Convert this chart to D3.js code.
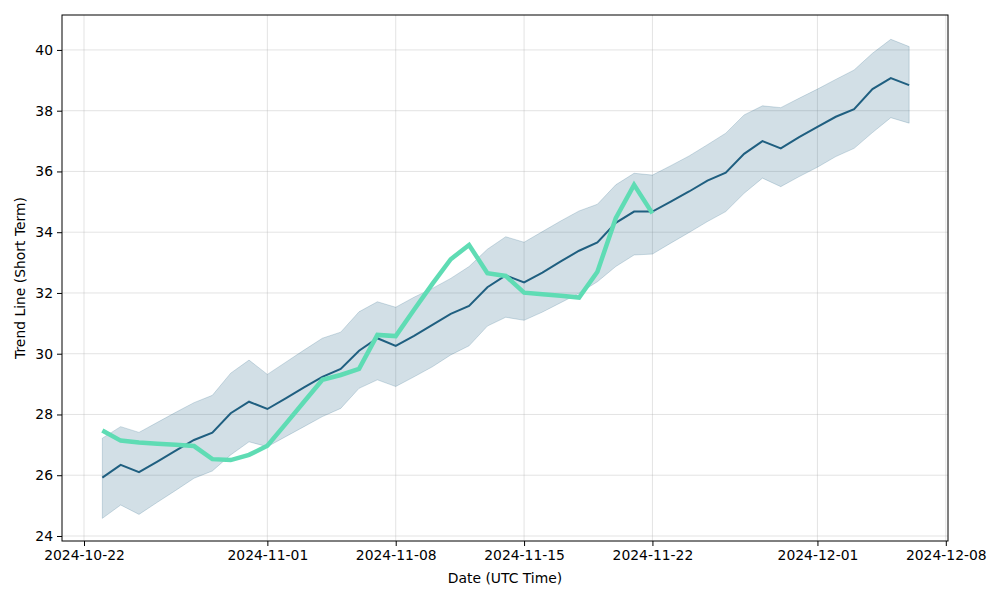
<!DOCTYPE html>
<html>
<head>
<meta charset="utf-8">
<script src="https://cdn.jsdelivr.net/npm/d3@7.9.0/dist/d3.min.js"></script>
<style>
  body { margin: 0; background: #fff; }
  text { font-family: "DejaVu Sans", sans-serif; }
</style>
</head>
<body>
<div id="chart"></div>
<script>
// daily values, 2024-10-23 .. 2024-12-06
const startDate = "2024-10-23";

const trendMean = [
  25.92, 26.34, 26.10, 26.45, 26.81, 27.16, 27.40, 28.04, 28.42, 28.18,
  28.53, 28.89, 29.24, 29.50, 30.10, 30.51, 30.26, 30.59, 30.95, 31.31,
  31.57, 32.19, 32.58, 32.35, 32.67, 33.04, 33.39, 33.66, 34.31, 34.68,
  34.68, 35.01, 35.34, 35.70, 35.96, 36.58, 37.00, 36.76, 37.13, 37.47,
  37.80, 38.05, 38.71, 39.07, 38.84
];

const bandUpper = [
  27.22, 27.60, 27.41, 27.74, 28.07, 28.39, 28.63, 29.36, 29.79, 29.32,
  29.72, 30.12, 30.51, 30.71, 31.38, 31.71, 31.53, 31.86, 32.15, 32.48,
  32.87, 33.44, 33.85, 33.67, 34.02, 34.37, 34.70, 34.92, 35.56, 35.94,
  35.88, 36.19, 36.51, 36.88, 37.26, 37.86, 38.16, 38.10, 38.41, 38.71,
  39.03, 39.34, 39.89, 40.35, 40.11
];

const bandLower = [
  24.58, 25.02, 24.71, 25.11, 25.50, 25.90, 26.14, 26.67, 27.10, 26.94,
  27.27, 27.60, 27.93, 28.20, 28.86, 29.14, 28.92, 29.24, 29.57, 29.96,
  30.26, 30.91, 31.20, 31.10, 31.37, 31.68, 31.99, 32.37, 32.87, 33.25,
  33.28, 33.64, 33.99, 34.35, 34.68, 35.28, 35.78, 35.50, 35.83, 36.14,
  36.49, 36.76, 37.28, 37.77, 37.59
];

// observed values, 2024-10-23 .. 2024-11-22
const observed = [
  27.47, 27.14, 27.08, 27.04, 27.00, 26.96, 26.53, 26.50, 26.67, 26.97,
  27.69, 28.42, 29.14, 29.30, 29.50, 30.62, 30.58, 31.45, 32.30, 33.11,
  33.58, 32.65, 32.56, 32.01, 31.96, 31.91, 31.85, 32.70, 34.46, 35.56,
  34.62
];

const xTickLabels = ["2024-10-22", "2024-11-01", "2024-11-08", "2024-11-15", "2024-11-22", "2024-12-01", "2024-12-08"];
const yTicks = [24, 26, 28, 30, 32, 34, 36, 38, 40];

const width = 1000, height = 600;
const margin = { top: 15, right: 52, bottom: 59, left: 62 };
const DAY = 86400000;
const parse = d3.utcParse("%Y-%m-%d");
const t0 = parse(startDate);
const dateAt = i => new Date(t0.getTime() + i * DAY);

const svg = d3.select("#chart").append("svg")
  .attr("width", width)
  .attr("height", height);

const x = d3.scaleUtc()
  .domain([new Date(parse("2024-10-22").getTime() - 1.2 * DAY), new Date(parse("2024-10-22").getTime() + 47.12 * DAY)])
  .range([margin.left, width - margin.right]);

const y = d3.scaleLinear()
  .domain([23.835, 41.15])
  .range([height - margin.bottom, margin.top]);

const xTicks = xTickLabels.map(parse);

// grid
const grid = svg.append("g");
grid.selectAll(".gx").data(xTicks).enter().append("line")
  .attr("x1", d => x(d)).attr("x2", d => x(d))
  .attr("y1", margin.top).attr("y2", height - margin.bottom)
  .style("stroke", "#b0b0b0").style("stroke-opacity", 0.35).style("stroke-width", "1px");
grid.selectAll(".gy").data(yTicks).enter().append("line")
  .attr("x1", margin.left).attr("x2", width - margin.right)
  .attr("y1", d => y(d)).attr("y2", d => y(d))
  .style("stroke", "#b0b0b0").style("stroke-opacity", 0.35).style("stroke-width", "1px");

// confidence band
const band = d3.area()
  .x((d, i) => x(dateAt(i)))
  .y0((d, i) => y(bandLower[i]))
  .y1((d, i) => y(bandUpper[i]));

svg.append("path")
  .datum(trendMean)
  .attr("d", band)
  .style("fill", "#1f5f80")
  .style("fill-opacity", 0.2)
  .style("stroke", "#1f5f80")
  .style("stroke-opacity", 0.2)
  .style("stroke-width", "1px");

const line = d3.line()
  .x((d, i) => x(dateAt(i)))
  .y(d => y(d));

svg.append("path")
  .datum(trendMean)
  .attr("d", line)
  .style("fill", "none")
  .style("stroke", "#1f5f80")
  .style("stroke-width", "2px");

svg.append("path")
  .datum(observed)
  .attr("d", line)
  .style("fill", "none")
  .style("stroke", "#5fdcb4")
  .style("stroke-width", "4.5px");

// axes
const xAxis = svg.append("g")
  .attr("transform", `translate(0,${height - margin.bottom})`)
  .call(d3.axisBottom(x).tickValues(xTicks).tickFormat(d3.utcFormat("%Y-%m-%d")).tickSizeOuter(0).tickSize(5).tickPadding(4));

const yAxis = svg.append("g")
  .attr("transform", `translate(${margin.left},0)`)
  .call(d3.axisLeft(y).tickValues(yTicks).tickFormat(d3.format("d")).tickSizeOuter(0).tickSize(5).tickPadding(4));

[xAxis, yAxis].forEach(a => {
  a.select(".domain").remove();
  a.selectAll("text").style("font-size", "13.9px").style("fill", "#000").style("font-family", "DejaVu Sans, sans-serif");
  a.selectAll("line").style("stroke", "#000").style("stroke-width", "1px");
});

// frame
svg.append("rect")
  .attr("x", margin.left).attr("y", margin.top)
  .attr("width", width - margin.left - margin.right)
  .attr("height", height - margin.top - margin.bottom)
  .style("fill", "none").style("stroke", "#000").style("stroke-width", "1px");

svg.append("text")
  .attr("x", (margin.left + width - margin.right) / 2)
  .attr("y", 583)
  .attr("text-anchor", "middle")
  .style("font-size", "13.9px")
  .text("Date (UTC Time)");

svg.append("text")
  .attr("transform", `translate(25,${(margin.top + height - margin.bottom) / 2}) rotate(-90)`)
  .attr("text-anchor", "middle")
  .style("font-size", "13.9px")
  .text("Trend Line (Short Term)");
</script>
</body>
</html>
